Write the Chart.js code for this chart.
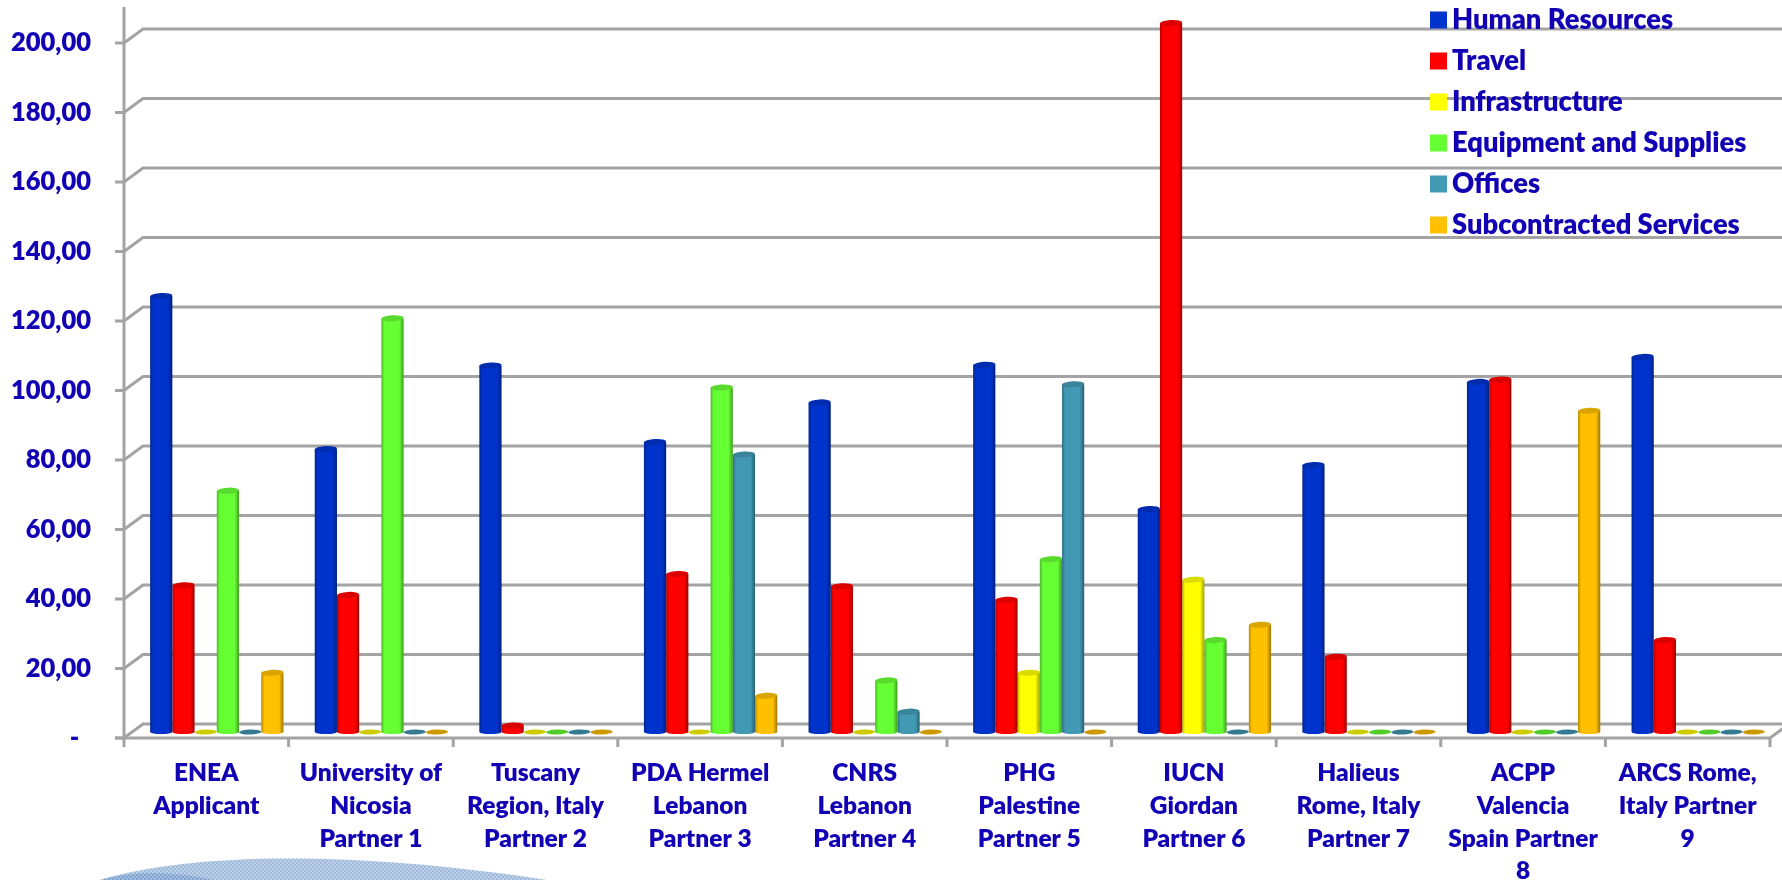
<!DOCTYPE html>
<html><head><meta charset="utf-8">
<style>html,body{margin:0;padding:0;background:#fff;overflow:hidden}canvas{display:block}</style>
<script src="https://cdn.jsdelivr.net/npm/chart.js@4"></script>
</head><body><canvas id="c" width="1782" height="880"></canvas>
<script>
const categories=[["ENEA","Applicant"],["University of","Nicosia","Partner 1"],["Tuscany","Region, Italy","Partner 2"],["PDA Hermel","Lebanon","Partner 3"],["CNRS","Lebanon","Partner 4"],["PHG","Palestine","Partner 5"],["IUCN","Giordan","Partner 6"],["Halieus","Rome, Italy","Partner 7"],["ACPP","Valencia","Spain Partner","8"],["ARCS Rome,","Italy Partner","9"]];
const humanResources=[126.6,82.6,106.6,84.6,96,106.8,65.3,78,101.9,109.1];
const travel=[43.4,40.6,3,46.6,43.1,39.2,205.2,22.8,102.6,27.6];
const infrastructure=[0,0,0,0,0,18.2,45,0,0,0];
const equipment=[70.6,120.2,0,100.3,16,50.9,27.6,0,0,0];
const offices=[0,0,0,81,7,101.2,0,0,0,0];
const subcontracted=[18.2,0,0,11.6,0,0,32,0,93.6,0];
const seriesNames=["Human Resources","Travel","Infrastructure","Equipment and Supplies","Offices","Subcontracted Services"];
const seriesColors=["#0033CC","#FF0000","#FFFF00","#66FF33","#4299B4","#FFC000"];
const seriesValues=[humanResources,travel,infrastructure,equipment,offices,subcontracted];
const FAMILY='Lato, Carlito, sans-serif', INK='#1200B4', GREY='#A3A3A3';
const DX=19, DY=-14, BX=10.5, BY=-5;

function shade(hex,f){const n=parseInt(hex.slice(1),16);const c=[n>>16,(n>>8)&255,n&255].map(v=>Math.round(v*f));return `rgb(${c[0]},${c[1]},${c[2]})`;}
Chart.BarElement.prototype.draw=function(ctx){
  const col=this.options.backgroundColor,w=this.width,cx=this.x+BX,l=cx-w/2,r=cx+w/2,base=this.base+BY,top=this.y+BY,ry=3;
  ctx.save();
  if(base-top<1){
    ctx.fillStyle=shade(col,0.8);
    ctx.beginPath();ctx.ellipse(cx,base-1,w/2,2.5,-0.03,0,Math.PI*2);ctx.fill();
    ctx.restore();return;
  }
  const g=ctx.createLinearGradient(l,0,r,0);
  g.addColorStop(0,shade(col,0.72));g.addColorStop(0.14,col);g.addColorStop(0.8,col);g.addColorStop(1,shade(col,0.62));
  ctx.fillStyle=g;
  ctx.beginPath();ctx.moveTo(l,top+ry);ctx.lineTo(l,base-1);
  ctx.ellipse(cx,base-1,w/2,2,0,Math.PI,0,true);
  ctx.lineTo(r,top+ry);ctx.closePath();ctx.fill();
  ctx.fillStyle=shade(col,0.86);
  ctx.beginPath();ctx.ellipse(cx,top+ry,w/2,ry,-0.05,0,Math.PI*2);ctx.fill();
  ctx.restore();
};

function checker(c,a,b){const p=document.createElement('canvas');p.width=p.height=4;const q=p.getContext('2d');q.fillStyle=a;q.fillRect(0,0,4,4);q.fillStyle=b;q.fillRect(0,0,2,2);q.fillRect(2,2,2,2);return c.createPattern(p,'repeat');}
const backdrop={id:'backdrop',beforeDraw(chart){
  const c=chart.ctx;c.save();
  c.fillStyle=checker(c,'#9FB9DA','#BDD0E7');c.beginPath();c.moveTo(100,880);c.bezierCurveTo(190,853,350,850,547,880);c.closePath();c.fill();
  c.fillStyle=checker(c,'#7FA3D2','#A4BDDE');c.beginPath();c.moveTo(100,880);c.quadraticCurveTo(150,866,214,880);c.closePath();c.fill();
  c.restore();
}};
const walls={id:'walls',beforeDatasetsDraw(chart){
  const c=chart.ctx,y=chart.scales.y,x=chart.scales.x,a=chart.chartArea;
  c.save();c.strokeStyle=GREY;c.lineWidth=3;
  y.ticks.forEach(t=>{
    const p=y.getPixelForValue(t.value);
    c.beginPath();c.moveTo(a.left-9,p);c.lineTo(a.left,p);c.lineTo(a.left+DX,p+DY);c.lineTo(1782,p+DY);c.stroke();
  });
  const p0=y.getPixelForValue(0);
  c.beginPath();c.moveTo(a.left,a.top);c.lineTo(a.left,p0+9);c.stroke();
  c.beginPath();c.moveTo(a.left-9,p0);c.lineTo(a.right,p0);c.lineTo(a.right+DX,p0+DY);c.stroke();
  categories.forEach((_,i)=>{
    const e=(x.getPixelForTick(i)+(i<categories.length-1?x.getPixelForTick(i+1):x.getPixelForTick(i)+(x.getPixelForTick(i)-x.getPixelForTick(i-1))))/2;
    c.beginPath();c.moveTo(e,p0);c.lineTo(e,p0+9);c.stroke();
  });
  c.restore();
}};
const keyBox={id:'keyBox',afterDraw(chart){
  const c=chart.ctx;c.save();c.font='800 27.3px '+FAMILY;c.textBaseline='middle';c.textAlign='left';
  seriesNames.forEach((n,i)=>{
    const yy=20+i*41;
    c.fillStyle=seriesColors[i];c.fillRect(1430,yy-8.5,17,17);
    c.fillStyle=INK;c.fillText(n,1452,yy);
  });
  c.restore();
}};

new Chart(document.getElementById('c'),{
  type:'bar',
  data:{labels:categories,datasets:seriesNames.map((n,i)=>({label:n,data:seriesValues[i],backgroundColor:seriesColors[i],categoryPercentage:0.81,barPercentage:1}))},
  plugins:[backdrop,walls,keyBox],
  options:{
    responsive:false,animation:false,devicePixelRatio:1,
    layout:{autoPadding:false,padding:{top:7,right:12,left:0,bottom:0}},
    plugins:{legend:{display:false},tooltip:{enabled:false},title:{display:false}},
    scales:{
      x:{grid:{display:false,drawTicks:false},border:{display:false},
        ticks:{color:INK,font:{family:FAMILY,weight:'800',size:24.5,lineHeight:1.335},maxRotation:0,autoSkip:false,padding:19},
        afterFit(s){s.height=142;s.paddingLeft=0;s.paddingRight=0;s.paddingTop=0;s.paddingBottom=0;}},
      y:{min:0,max:210.36,grid:{display:false,drawTicks:false},border:{display:false},
        ticks:{color:INK,font:{family:FAMILY,weight:'800',size:25.5},padding:33,stepSize:20,
          callback(v){return v===0?'-  ':v.toFixed(2).replace('.',',');}},
        afterBuildTicks(s){s.ticks=s.ticks.filter(t=>t.value%20===0);},
        afterFit(s){s.width=124;s.paddingTop=0;s.paddingBottom=0;s.paddingLeft=0;s.paddingRight=0;}}
    }
  }
});
</script></body></html>
